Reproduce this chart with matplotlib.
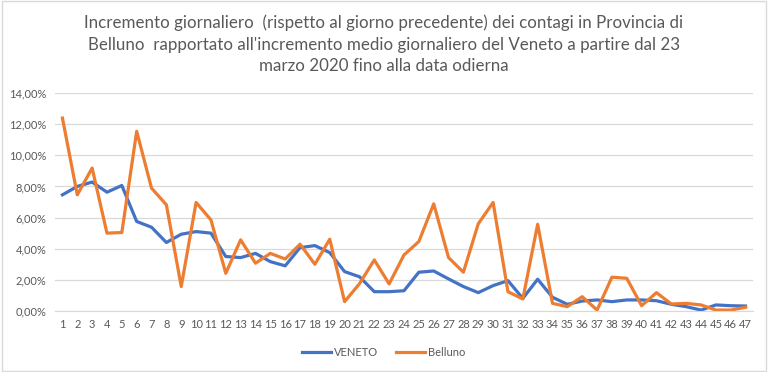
import matplotlib
matplotlib.use("Agg")
import matplotlib.pyplot as plt
from matplotlib.ticker import FuncFormatter

days = list(range(1, 48))
veneto = [7.46, 8.00, 8.28, 7.63, 8.06, 5.75, 5.38, 4.40, 4.93, 5.10,
          5.00, 3.50, 3.43, 3.70, 3.17, 2.90, 4.07, 4.20, 3.75, 2.53,
          2.20, 1.24, 1.24, 1.30, 2.49, 2.57, 2.06, 1.57, 1.18, 1.63,
          1.95, 0.81, 2.04, 0.88, 0.43, 0.64, 0.71, 0.60, 0.71, 0.71,
          0.66, 0.43, 0.28, 0.06, 0.39, 0.34, 0.32]
belluno = [12.39, 7.46, 9.18, 5.00, 5.04, 11.54, 7.89, 6.82, 1.57, 6.97,
           5.85, 2.42, 4.57, 3.07, 3.70, 3.34, 4.29, 3.00, 4.61, 0.60,
           1.75, 3.28, 1.74, 3.60, 4.46, 6.88, 3.43, 2.49, 5.60, 6.97,
           1.24, 0.77, 5.57, 0.49, 0.28, 0.92, 0.06, 2.17, 2.10, 0.34,
           1.18, 0.45, 0.49, 0.39, 0.06, 0.06, 0.24]
yticks = [0, 2, 4, 6, 8, 10, 12, 14]
title = ("Incremento giornaliero  (rispetto al giorno precedente) dei contagi in Provincia di\n"
         "Belluno  rapportato all'incremento medio giornaliero del Veneto a partire dal 23\n"
         "marzo 2020 fino alla data odierna")

plt.rcParams['font.family'] = ['Lato', 'DejaVu Sans']
grey = '#595959'

fig = plt.figure(figsize=(7.68, 3.72), dpi=100)
ax = fig.add_axes([55/768, 1-311/372, (753-55)/768, (311-93)/372])

ax.plot(days, veneto, color='#4472C4', lw=2.3, label='VENETO', solid_joinstyle='round')
ax.plot(days, belluno, color='#ED7D31', lw=2.3, label='Belluno', solid_joinstyle='round')

ax.set_xlim(0.5, 47.5)
ax.set_ylim(0, 14)
ax.set_yticks(yticks)
ax.yaxis.set_major_formatter(FuncFormatter(lambda v, p: f"{v:.2f}%".replace('.', ',')))
ax.set_xticks(days)
ax.set_xticklabels([str(d) for d in days])
ax.grid(axis='y', color='#D9D9D9', lw=0.9)
ax.set_axisbelow(True)
for s in ['top', 'right', 'left']:
    ax.spines[s].set_visible(False)
ax.spines['bottom'].set_color('#D9D9D9')
ax.tick_params(axis='both', length=0, colors=grey, labelsize=8)
ax.tick_params(axis='x', pad=6)
ax.tick_params(axis='y', pad=6)

fig.text(0.5, 0.96, title, ha='center', va='top', fontsize=12.2, color=grey,
         linespacing=1.4)

fig.legend(loc='center', bbox_to_anchor=(0.5, 1-352/372), ncol=2, frameon=False,
           fontsize=8, labelcolor=grey, handlelength=2.6, columnspacing=1.6,
           handletextpad=0.3)

border = plt.Rectangle((0.002, 0.003), 0.996, 0.994, transform=fig.transFigure,
                       fill=False, edgecolor='#D9D9D9', lw=1)
fig.add_artist(border)

fig.savefig('out.png', dpi=100)
